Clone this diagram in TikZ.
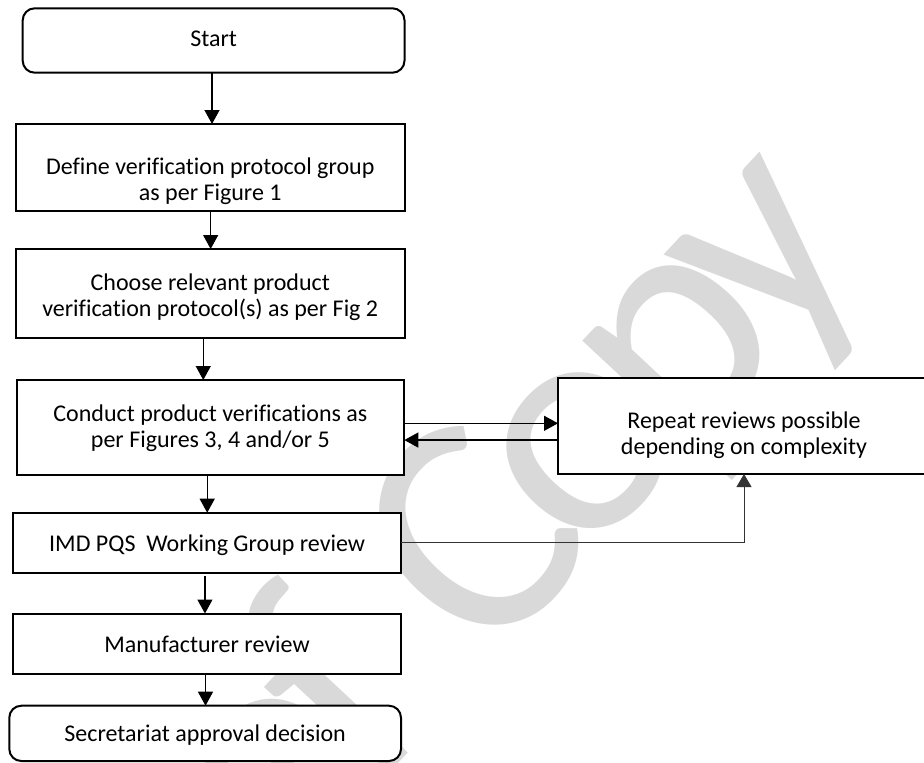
\documentclass[tikz,border=0pt]{standalone}
\usepackage{fontspec}
\setmainfont{Carlito}[Ligatures=CommonOff]
\usetikzlibrary{arrows.meta}
\definecolor{wmgray}{HTML}{D9D9D9}
\newcommand{\tightk}{\kern-.09em }
\begin{document}
\begin{tikzpicture}[x=0.5pt,y=0.5pt,
  box/.style={draw=black, line width=1pt, fill=white, inner sep=0pt, outer sep=0pt},
  endbox/.style={box, rounded corners=6pt},
  lbl/.style={inner sep=0pt, anchor=base, font=\fontsize{12}{13}\selectfont},
  flow/.style={line width=0.65pt, -{Triangle[length=7pt,width=7.5pt]}},
  loopline/.style={line width=0.5pt, draw=black!80, -{Triangle[length=6.5pt,width=7.5pt]}},
  wm/.style={inner sep=0pt, text=wmgray, font=\fontsize{160}{160}\selectfont}]
\useasboundingbox (0,0) rectangle (924,-762);

% watermark behind the chart
\node[wm, rotate=47, anchor=base east] (wmark) at (873,-254)
  {R\tightk e\tightk f C\tightk o\tightk p\tightk y};

% boxes
\node[endbox, minimum width=190.9pt, minimum height=32.2pt] (start) at (213.6,-40.5) {};
\node[box, minimum width=194.25pt, minimum height=43.35pt] (define) at (210.25,-167.35) {};
\node[box, minimum width=194.25pt, minimum height=44.65pt] (choose) at (210.25,-293.65) {};
\node[box, minimum width=193.9pt, minimum height=47.25pt] (conduct) at (210.4,-427.25) {};
\node[box, minimum width=186pt, minimum height=47.85pt] (repeat) at (744,-426.15) {};
\node[box, minimum width=193.85pt, minimum height=30.15pt] (imd) at (207.15,-542.85) {};
\node[box, minimum width=194pt, minimum height=30.25pt] (manuf) at (207,-643.75) {};
\node[endbox, minimum width=195.85pt, minimum height=27.65pt] (secr) at (205.15,-733.35) {};

% texts
\node[lbl] (startT) at (213.6,-46) {Start};
\node[lbl] (defineT) at (210.25,-174) {\begin{tabular}[t]{@{}c@{}}Define verification protocol group\\as per Figure 1\end{tabular}};
\node[lbl] (chooseT) at (210.25,-290) {\begin{tabular}[t]{@{}c@{}}Choose relevant product\\verification protocol(s) as per Fig 2\end{tabular}};
\node[lbl] (conductT) at (210.4,-421.7) {\begin{tabular}[t]{@{}c@{}}Conduct product verifications as\\per Figures 3, 4 and/or 5\end{tabular}};
\node[lbl] (repeatT) at (744,-428.3) {\begin{tabular}[t]{@{}c@{}}Repeat reviews possible\\depending on complexity\end{tabular}};
\node[lbl] (imdT) at (207.15,-551.7) {IMD PQS\ \ Working Group review};
\node[lbl] (manufT) at (207,-652.7) {Manufacturer review};
\node[lbl] (secrT) at (205.15,-741) {Secretariat approval decision};

% main flow
\draw[flow] ([xshift=-0.8pt]start.south) -- ([xshift=-0.8pt]start.south |- define.north);
\draw[flow] ([xshift=0.2pt]define.south) -- ([xshift=0.2pt]define.south |- choose.north);
\draw[flow] ([xshift=-3.5pt]choose.south) -- ([xshift=-3.5pt]choose.south |- conduct.north);
\draw[flow] ([xshift=-1.6pt]conduct.south) -- ([xshift=-1.6pt]conduct.south |- imd.north);
\draw[flow, shorten <=1.5pt] ([xshift=-1.1pt]imd.south) -- ([xshift=-1.1pt]imd.south |- manuf.north);
\draw[flow] ([xshift=-0.75pt]manuf.south) -- ([xshift=-0.75pt]manuf.south |- secr.north);

% review loop
\draw[flow] ([yshift=1.98pt]conduct.east) -- ([yshift=1.98pt]conduct.east -| repeat.west);
\draw[flow] ([yshift=-6.4pt]conduct.east -| repeat.west) -- ([yshift=-6.4pt]conduct.east);
\draw[loopline] (imd.east) -| (repeat.south);
\end{tikzpicture}
\end{document}
